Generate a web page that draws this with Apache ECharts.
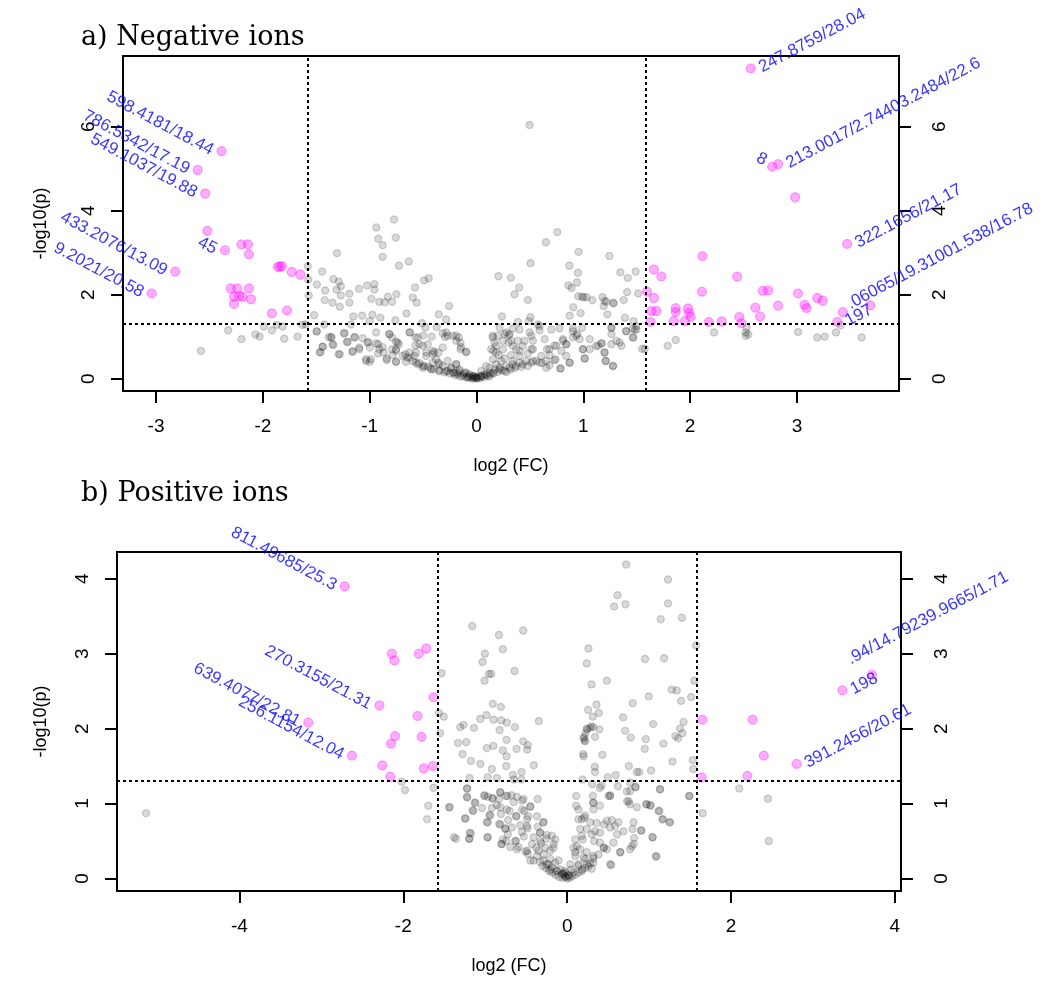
<!DOCTYPE html>
<html>
<head>
<meta charset="utf-8">
<script src="https://cdn.jsdelivr.net/npm/echarts@6/dist/echarts.min.js"></script>
<style>
html, body { margin: 0; padding: 0; background: #fff; }
#chart { width: 1047px; height: 981px; }
</style>
</head>
<body>
<div id="chart"></div>
<script>
// Cut-offs: fold change 3 (log2 = 1.585) and p = 0.05 (-log10 = 1.301)
const fcThreshold = 1.585;
const pThreshold = 1.301;

// Tick positions
const negXTicks = [-3, -2, -1, 0, 1, 2, 3];
const negYTicks = [0, 2, 4, 6];
const posXTicks = [-4, -2, 0, 2, 4];
const posYTicks = [0, 1, 2, 3, 4];

// ---------- a) Negative ions ----------
// non-significant features [log2FC, -log10 p]
const negGray = [
  [0.497,6.04],[-0.772,3.79],[-0.938,3.6],[-0.92,3.33],[-0.756,3.36],[-0.878,3.18],[-0.878,2.9],[-1.306,2.99],[-0.634,2.79],[-0.725,2.69],
  [0.756,3.49],[0.65,3.25],[0.506,2.75],[0.956,3.02],[1.244,2.92],[0.869,2.69],[0.95,2.52],[1.347,2.53],[1.416,2.4],[1.49,2.55],
  [0.206,2.44],[0.322,2.4],[0.4,2.17],[0.356,2.01],[0.481,1.87],[0.94,2.29],[0.86,2.22],[0.89,2.16],[0.953,1.96],[1.003,1.94],
  [1.084,1.87],[1.18,1.94],[1.19,1.73],[1.216,1.83],[1.28,1.81],[1.378,1.87],[1.513,2.03],[0.906,1.7],[0.872,1.5],[0.975,1.56],
  [1.225,1.53],[1.39,1.45],[1.47,1.37],[0.238,1.48],[0.506,1.46],
  [-1.444,2.55],[-1.34,2.37],[-1.288,2.31],[-1.27,2.2],[-1.31,2.12],[-1.416,2.1],[-1.494,2.24],[-1.575,2.36],[-1.27,1.98],[-1.347,1.81],
  [-1.28,1.71],[-1.42,1.87],[-1.19,1.81],[-1.19,2.02],[-1.1,2.14],[-1.025,2.22],[-0.956,2.25],[-0.956,2.12],[-0.984,1.9],[-0.91,1.83],
  [-0.86,1.82],[-0.83,1.95],[-0.75,2.01],[-0.79,1.83],[-0.575,2.17],[-0.49,2.34],[-0.447,2.39],[-0.597,1.93],[-0.56,1.81],[-0.256,1.73],
  [-1.52,1.51],[-1.153,1.48],[-1.07,1.5],[-0.975,1.52],[-0.9,1.45],[-1.0,1.37],[-0.76,1.39],[-0.656,1.55],[-0.51,1.32],[-0.353,1.53],
  [-0.284,1.41],[-1.6,1.29],[-1.175,1.29],[-1.425,1.29],[-1.58,2.68],[-1.57,1.98],
  [-1.494,1.12],[-1.363,0.99],[-1.238,1.09],[-1.138,0.99],[-1.206,0.88],[-1.347,0.82],[-1.44,0.76],[-1.463,0.63],[-1.28,0.58],[-1.16,0.64],
  [-1.097,0.7],[-1.019,0.86],[-0.94,0.84],[-0.91,0.7],[-0.988,0.46],[-1.034,0.42],[-0.84,0.44],[-0.753,0.4],[-0.816,1.06],[-0.738,0.86],
  [-0.753,0.66],[-0.628,1.1],[-0.55,0.98],[-0.534,0.82],[-0.628,0.62],[-0.65,0.5],[-0.47,0.62],[-0.41,0.58],[-0.378,0.46],[-0.566,0.38],
  [-0.503,0.26],[-0.425,0.22],[-0.347,0.34],[-0.284,1.1],[-0.22,1.02],[-0.19,0.9],[-0.15,0.7],[-0.097,0.64],[-0.316,0.74],[-0.284,0.18],
  [-0.22,0.14],[-0.175,0.1],[-0.128,0.06],[-0.08,0.02],[-0.034,0],[-0.238,0.26],[-0.19,0.34],[-0.16,0.22],[-0.097,0.14],[-0.066,0.06],
  [0,0.02],[0.028,0.05],[0.075,0.1],[0.12,0.14],[0.17,0.22],[0.216,0.26],[0.263,0.18],[0.31,0.26],[0.37,0.3],[0.434,0.34],
  [0.528,0.42],[0.59,0.38],[0.653,0.26],[0.73,0.44],[0.788,0.24],[0.872,0.38],[0.153,0.46],[0.184,0.62],[0.138,0.7],[0.169,0.86],
  [0.2,1.02],[0.153,1.02],[0.278,1.1],[0.31,1.06],[0.247,0.9],[0.34,0.78],[0.403,0.66],[0.387,0.9],[0.403,1.17],[0.497,1.1],
  [0.528,0.9],[0.513,0.7],[0.59,1.25],[0.638,0.94],[0.684,0.7],[0.747,0.78],[0.81,0.9],[0.84,0.82],[0.903,1.13],[0.934,1.02],
  [0.997,0.7],[1.013,0.48],[1.06,0.7],[1.12,0.78],[1.17,0.84],[1.2,0.62],[1.21,0.42],[1.278,0.3],[1.263,1.21],[1.263,1.06],
  [1.34,0.86],[1.4,1.13],[1.466,0.98],[1.497,1.17],[0.34,0.42],[0.09,0.3],[0.044,0.18],[1.55,0.71],[1.46,1.19],
  [-1.497,1.13],[-1.356,0.98],[-1.384,0.99],[-1.34,0.8],[-1.44,0.76],[-1.466,0.62],[-1.29,0.58],[-1.238,1.07],[-1.213,0.87],[-1.144,0.98],
  [-1.16,0.65],[-1.097,0.74],[-1.066,0.96],[-1.013,0.87],[-0.997,0.74],[-1.034,0.46],[-1.0,0.4],[-0.94,1.1],[-0.92,0.82],[-0.922,0.6],
  [-0.878,0.75],[-0.869,0.62],[-0.84,0.48],[-0.816,1.06],[-0.79,0.98],[-0.753,0.88],[-0.728,0.82],[-0.753,0.7],[-0.79,0.7],[-0.784,0.56],
  [-0.753,0.4],[-0.69,0.54],[-0.666,0.58],[-0.628,0.5],[-0.58,0.54],[-0.566,0.62],[-0.622,1.1],[-0.572,0.98],[-0.497,1.03],[-0.419,1.0],
  [-0.478,1.22],[-0.372,1.23],[-0.316,1.08],[-0.294,0.99],[-0.27,1.02],[-0.19,1.02],[-0.166,0.98],[-0.15,0.86],[-0.144,0.75],[-0.097,0.63],
  [-0.456,0.82],[-0.572,0.79],[-0.503,0.78],[-0.41,0.66],[-0.394,0.63],[-0.356,0.62],[-0.472,0.54],[-0.41,0.38],[-0.356,0.38],[-0.316,0.3],
  [-0.27,0.42],[-0.238,0.24],[-0.19,0.34],[-0.16,0.18],[-0.11,0.14],[-0.066,0.1],[-0.019,0.06],[-0.206,0.14],[-0.27,0.18],[-0.347,0.18],
  [-0.425,0.24],[-0.488,0.3],[-0.534,0.37],[-0.597,0.42],[-0.66,0.4],
  [0.216,1.21],[0.34,1.19],[0.388,1.35],[0.49,1.37],[0.575,1.29],[0.59,1.15],[0.7,1.17],[0.778,1.2],[0.903,1.2],[0.988,1.21],
  [1.263,1.21],[1.403,1.13],[1.48,1.17],[1.497,1.25],[0.153,0.98],[0.184,0.78],[0.159,0.66],[0.263,1.06],[0.303,1.03],[0.325,0.9],
  [0.209,0.56],[0.23,0.42],[0.3,0.86],[0.247,0.7],[0.325,0.56],[0.372,0.7],[0.403,0.54],[0.434,0.78],[0.45,0.9],[0.513,1.02],
  [0.528,0.7],[0.481,0.6],[0.56,0.42],[0.613,0.37],[0.606,0.54],[0.66,0.7],[0.684,0.56],[0.731,0.79],[0.81,0.94],[0.84,0.82],
  [0.794,0.66],[0.84,0.54],[0.872,0.38],[0.784,0.24],[0.74,0.46],[0.903,0.98],[0.944,1.06],[0.966,0.94],[0.997,0.7],[1.013,0.48],
  [1.06,0.94],[1.138,0.78],[1.17,0.84],[1.197,0.62],[1.21,0.42],[1.278,0.3],[1.263,0.82],[1.31,0.9],[1.356,0.78],[1.466,0.98],
  [1.575,0.71],[0.263,0.48],[0.34,0.34],[0.403,0.38],[0.278,0.3],[0.216,0.22],[0.153,0.14],[0.09,0.1],[0.044,0.06],[0,0.02],
  [-0.034,0.05],[0.122,0.26],[0.184,0.34],[0.465,0.42],[0.513,0.38],[0.653,0.42],[0.684,0.32],
  [0.988,1.95],[1.03,1.94],[1.2,1.85],[1.284,1.79],[1.41,2.06],
  [-0.25,0.12],[-0.2,0.08],[-0.15,0.05],[-0.12,0.1],[-0.08,0.04],[-0.05,0.02],[-0.02,0.01],[0.01,0],[0.04,0.02],[0.07,0.04],
  [0.1,0.07],[0.13,0.1],[0.16,0.12],[0.2,0.16],[0.24,0.2],[0.28,0.16],[-0.3,0.15],[-0.35,0.2],[-0.4,0.22],[-0.45,0.28],
  [-0.5,0.3],[-0.55,0.34],[0.32,0.22],[0.36,0.25],[0.42,0.28],[0.48,0.3],[-0.1,0.03],[0,0.03],[-0.03,0.06],[0.05,0.06],
  [-0.18,0.14],[0.12,0.05],
  [-2.324,1.15],[-2.2,0.94],[-2.07,1.05],[-2.03,1.0],[-1.99,1.24],[-1.915,1.15],[-1.87,1.28],[-1.815,1.24],[-1.8,0.95],[-1.675,1.0],
  [-1.63,1.28],[-2.58,0.66],
  [2.224,1.1],[1.79,0.78],[1.865,0.92],[2.52,1.1],[2.52,1.02],[2.545,1.05],[2.53,1.21],[3.01,1.11],[3.19,0.98],[3.26,1.0],
  [3.365,1.1],[3.41,1.27],[3.605,0.98]
];
// significant features without a printed name
const negSig = [
  [-2.52,3.52],[-2.2,3.2],[-2.14,3.2],[-2.13,2.96],[-1.84,2.67],[-1.82,2.68],[-1.86,2.66],[-1.73,2.54],[-1.65,2.48],
  [-2.3,2.15],[-2.24,2.15],[-2.13,2.15],[-2.27,1.95],[-2.22,1.97],[-2.19,1.95],[-2.11,1.89],[-2.27,1.78],[-1.915,1.555],[-1.774,1.62],
  [2.983,4.32],[2.115,2.92],[1.66,2.6],[1.73,2.435],[2.44,2.43],[1.596,2.07],[1.66,1.92],[2.11,2.07],[2.68,2.09],[2.73,2.1],
  [3.01,2.03],[3.19,1.92],[3.24,1.86],[1.637,1.61],[1.684,1.61],[1.865,1.68],[1.865,1.585],[1.98,1.67],[1.99,1.57],[2.006,1.47],
  [2.824,1.74],[2.61,1.69],[2.655,1.48],[3.07,1.76],[3.09,1.68],[3.686,1.745],[1.63,1.35],[1.846,1.37],[1.95,1.37],[2.174,1.35],
  [2.296,1.36],[2.46,1.47],[2.48,1.32]
];
// significant features with a printed mass/retention-time tag
const negNamed = [
  [-2.387,5.42],[-2.61,4.97],[-2.54,4.41],[-2.355,3.06],[-2.82,2.55],[-3.04,2.03],
  [2.568,7.39],[2.768,5.05],[2.824,5.11],[3.47,3.21],[3.43,1.585],[3.377,1.35]
];
const negNames = [
  '598.4181/18.44','786.5342/17.19','549.1037/19.88','45','433.2076/13.09','9.2021/20.58',
  '247.8759/28.04','8','213.0017/2.74403.2484/22.6','322.1656/21.17','.06065/19.31001.538/16.78','197'
];

// ---------- b) Positive ions ----------
const posGray = [
  [0.72,4.19],[1.23,3.99],[0.614,3.78],[0.573,3.63],[0.711,3.66],[1.23,3.67],[1.142,3.46],[1.4,3.48],[1.573,3.11],[0.26,3.07],
  [0.24,2.87],[0.95,2.93],[1.183,2.94],[0.297,2.59],[0.484,2.64],[1.553,2.64],[0.996,2.43],[0.8,2.34],[1.276,2.52],[1.337,2.51],
  [1.39,2.37],[1.512,2.42],[0.358,2.32],[0.256,2.25],[0.386,2.21],[0.313,2.16],[0.293,2.03],[0.244,1.99],[0.32,2.02],[0.224,1.94],
  [0.2,1.87],[0.211,1.84],[0.394,1.99],[0.195,1.66],[0.2,1.63],[0.43,1.65],[0.683,2.15],[0.707,1.97],[0.776,1.88],[0.96,1.86],
  [0.947,1.73],[1.049,2.06],[1.175,1.8],[1.32,1.9],[1.354,1.87],[1.407,1.94],[1.378,2.0],[1.42,2.09],[1.285,1.56],[1.533,1.58],
  [1.54,1.46],[0.752,1.5],[0.85,1.42],[1.024,1.44],[0.878,1.42],[0.337,1.49],[0.34,1.42],[0.593,1.38],[0.496,1.35],[0.187,1.32],
  [0.24,2.0],[0.28,2.01],[0.34,1.89],[0.207,1.89],[0.22,1.83],
  [-1.159,3.37],[-0.833,3.25],[-0.537,3.31],[-0.785,3.06],[-1.004,3.0],[-1.033,2.89],[-0.642,2.77],[-0.955,2.73],[-0.927,2.73],[-1.008,2.64],
  [-1.533,2.74],[-0.907,2.33],[-0.809,2.29],[-1.061,2.13],[-0.984,2.18],[-0.898,2.12],[-0.805,2.11],[-0.736,2.08],[-0.638,2.02],[-0.825,1.98],
  [-0.346,2.1],[-1.565,2.21],[-1.508,2.16],[-1.305,2.02],[-1.264,2.05],[-1.138,2.01],[-1.333,1.81],[-1.232,1.82],[-1.276,1.66],[-0.98,1.74],
  [-0.9,1.77],[-0.74,1.85],[-0.618,1.73],[-0.537,1.83],[-0.48,1.78],[-0.488,1.72],[-0.785,1.71],[-0.74,1.63],[-1.175,1.57],[-1.06,1.53],
  [-0.92,1.46],[-0.744,1.5],[-0.663,1.38],[-0.557,1.42],[-0.407,1.51],[-0.56,1.32],[-1.19,1.34],[-0.97,1.35],[-0.858,1.34],[-0.65,1.32],
  [-1.55,1.94],
  [0.305,1.26],[0.4,1.21],[0.42,1.24],[0.313,1.1],[0.524,1.1],[0.317,1.01],[0.4,0.97],[0.618,1.23],[0.837,1.22],[0.768,1.17],
  [0.732,1.03],[0.764,0.99],[0.972,0.99],[1.02,0.97],[1.134,1.19],[1.126,0.9],[1.248,0.75],[1.163,0.79],[1.492,1.1],[1.085,0.29],
  [1.04,0.55],[0.906,0.64],[0.797,0.66],[0.813,0.46],[0.768,0.39],[0.65,0.35],[0.565,0.48],[0.61,0.59],[0.524,0.68],[0.45,0.72],
  [0.4,0.61],[0.45,0.41],[0.382,0.32],[0.524,0.19],[0.28,0.2],[0.32,0.27],[0.22,0.26],[0.138,0.19],[0.18,0.12],[0.077,0.08],
  [0.016,0.04],[-0.024,0.03],[-0.065,0.06],[-0.126,0.1],[-0.187,0.15],[-0.248,0.19],[-0.33,0.22],[-0.41,0.24],[-0.207,0.26],[-0.106,0.24],
  [-0.289,0.32],[-0.35,0.37],[-0.167,0.41],[-0.146,0.52],[-0.248,0.58],[0.098,0.35],[0.118,0.43],[0.19,0.52],[0.207,0.81],[0.11,0.97],
  [0.18,0.79],[0.24,0.66],[0.3,0.59],[0.159,0.66],
  [-1.22,1.2],[-1.22,1.08],[-1.44,0.95],[-1.13,1.01],[-1.155,0.91],[-1.244,0.8],[-1.382,0.55],[-1.358,0.53],[-1.19,0.61],[-1.195,0.53],
  [-0.97,0.55],[-1.012,1.1],[-0.97,1.09],[-0.915,1.07],[-0.833,1.06],[-0.817,1.15],[-0.728,1.1],[-0.614,1.09],[-0.532,1.06],[-0.654,1.02],
  [-0.45,0.96],[-0.55,0.92],[-0.476,0.83],[-0.622,0.83],[-0.703,0.9],[-0.817,0.95],[-0.94,0.84],[-0.97,0.75],[-0.817,0.72],[-0.752,0.67],
  [-0.724,0.59],[-0.797,0.46],[-0.744,0.5],[-0.626,0.5],[-0.614,0.39],[-0.508,0.36],[-0.48,0.33],[-0.553,0.62],[-0.492,0.7],[-0.37,0.83],
  [-0.289,0.75],[-0.33,0.61],[-0.256,0.53],[-0.41,0.55],[-0.317,0.47],[-0.378,0.41],
  [-1.224,1.2],[-1.224,1.09],[-1.008,1.11],[-0.906,1.07],[-0.817,1.15],[-0.75,1.1],[-0.68,1.11],[-0.55,1.04],[-1.12,1.01],[-1.146,0.9],
  [-1.244,0.8],[-1.04,0.94],[-0.919,0.94],[-0.858,0.98],[-0.736,0.92],[-0.809,0.86],[-0.947,0.85],[-0.98,0.75],[-0.829,0.73],[-0.72,0.78],
  [-0.622,0.83],[-0.524,0.9],[-0.45,0.96],[-0.36,1.06],[-0.49,0.79],[-0.573,0.71],[-0.675,0.68],[-0.756,0.66],[-0.484,0.67],[-0.36,0.69],
  [-0.289,0.75],[-0.33,0.61],[-0.53,0.56],[-0.634,0.5],[-0.695,0.42],[-0.785,0.52],[-0.805,0.46],[-0.593,0.42],[-0.49,0.37],[-0.43,0.46],
  [-0.33,0.5],[-0.187,0.57],[-0.268,0.41],[-0.207,0.37],[-0.167,0.46],[-0.37,0.3],[-0.45,0.24],[-0.289,0.24],[-0.228,0.19],[-0.146,0.21],
  [-0.085,0.12],[-0.045,0.06],[0,0],[-0.126,0.1],[-0.207,0.12],[-1.175,0.6],[-1.195,0.53],[-0.972,0.55],[-1.435,0.95],
  [0.11,1.1],[0.32,1.01],[0.32,0.92],[0.138,0.92],[0.22,0.84],[0.138,0.79],[0.28,0.75],[0.36,0.74],[0.484,0.77],[0.545,0.78],
  [0.626,0.75],[0.585,0.7],[0.687,0.63],[0.81,0.75],[0.902,0.64],[0.817,0.54],[0.789,0.43],[0.646,0.35],[0.537,0.18],[0.484,0.39],
  [0.443,0.41],[0.4,0.48],[0.33,0.5],[0.34,0.63],[0.179,0.57],[0.098,0.52],[0.077,0.41],[0.159,0.39],[0.24,0.35],[0.32,0.3],
  [0.2,0.28],[0.098,0.3],[0.037,0.19],[0.138,0.17],[0.24,0.19],[0.32,0.21],[-0.024,0.08],[0.016,0.04],[-0.045,0.06],[0.752,1.03],
  [0.85,0.95],[0.963,0.99],[1.012,0.98],[1.114,0.9],[1.167,0.79],[1.256,0.75],[1.045,0.55],[1.085,0.3],[0.504,1.1],[0.524,1.11],
  [0.728,1.16],[0.768,1.28],[0.83,1.22],[1.134,1.19],[1.488,1.1],
  [-0.1,0.02],[-0.06,0.01],[-0.02,0.02],[0.03,0.01],[0.06,0.03],[0.1,0.05],[0.14,0.08],[-0.14,0.05],[-0.18,0.08],[-0.22,0.1],
  [0.18,0.1],[0.22,0.14],[0.05,0.12],[-0.03,0.1],[-0.26,0.14],[0.26,0.16],[-0.3,0.17],[0.3,0.13],
  [-1.98,1.18],[-1.63,1.21],[-1.695,0.97],[-1.71,0.79],[-2.02,1.29],[-5.14,0.87],[2.1,1.2],[2.45,1.065],[2.46,0.5],[1.654,0.87]
];
const posSig = [
  [-2.14,3.0],[-2.11,2.91],[-1.81,3.0],[-1.72,3.07],[-1.63,2.42],[-1.826,2.17],[-2.1,1.9],[-2.15,1.8],[-1.777,1.89],
  [-2.256,1.51],[-1.75,1.47],[-1.64,1.5],[-2.16,1.36],
  [1.65,2.12],[1.64,1.35],[2.264,2.12],[2.4,1.64],[2.2,1.37]
];
const posNamed = [
  [-2.716,3.9],[-2.29,2.31],[-3.16,2.08],[-2.626,1.64],
  [2.8,1.53],[3.36,2.51],[3.72,2.72]
];
const posNames = [
  '811.49685/25.3','270.3155/21.31','639.4077/22.81','256.1154/12.04',
  '391.2456/20.61','198','.94/14.79239.9665/1.71'
];

// ---------- styling ----------
const SANS = 'Liberation Sans, Arial, sans-serif';
const SERIF = 'DejaVu Serif, serif';
const LABEL_ANGLE = 28;
const labelTweaks = {
  '8': { position: 'left', rotate: -LABEL_ANGLE, offset: [0, -6] },
  '.94/14.79239.9665/1.71': { offset: [-22, -28] },
  '.06065/19.31001.538/16.78': { offset: [0, -8] }
};

// R-style axis range: data range widened by 4% on each side
function paddedRange(points, idx) {
  let lo = Infinity, hi = -Infinity;
  points.forEach(p => { lo = Math.min(lo, p[idx]); hi = Math.max(hi, p[idx]); });
  const pad = (hi - lo) * 0.04;
  return [lo - pad, hi + pad];
}

function sigItems(plain, named, names) {
  const items = plain.map(p => ({ value: p }));
  named.forEach((p, i) => {
    const text = names[i];
    const onLeft = p[0] < 0;
    items.push({
      value: p,
      label: Object.assign({
        show: true,
        formatter: text,
        position: onLeft ? 'left' : 'right',
        rotate: onLeft ? -LABEL_ANGLE : LABEL_ANGLE,
        distance: 4,
        color: '#0000ff',
        fontFamily: SANS,
        fontSize: 17
      }, labelTweaks[text] || {})
    });
  });
  return items;
}

const tickStyle = ticks => ({
  show: true, length: 12, customValues: ticks, lineStyle: { color: '#000', width: 2 }
});

function xAxisFor(gridIndex, range, ticks) {
  return {
    type: 'value', gridIndex, min: range[0], max: range[1],
    name: 'log2 (FC)', nameLocation: 'middle', nameGap: 66,
    nameTextStyle: { fontFamily: SANS, fontSize: 18, color: '#000' },
    axisLine: { show: false, onZero: false },
    axisTick: tickStyle(ticks),
    axisLabel: { customValues: ticks, margin: 26, fontFamily: SANS, fontSize: 19, color: '#000' },
    splitLine: { show: false }
  };
}

function yAxisFor(gridIndex, range, ticks, side, gap) {
  const ax = {
    type: 'value', gridIndex, position: side, min: range[0], max: range[1],
    axisLine: { show: false, onZero: false },
    axisTick: tickStyle(ticks),
    axisLabel: { customValues: ticks, rotate: 90, margin: side === 'left' ? 25 : 31,
                 fontFamily: SANS, fontSize: 19, color: '#000' },
    splitLine: { show: false }
  };
  if (side === 'left') {
    Object.assign(ax, {
      name: '-log10(p)', nameLocation: 'middle', nameGap: gap, nameRotate: 90,
      nameTextStyle: { fontFamily: SANS, fontSize: 18, color: '#000' }
    });
  }
  return ax;
}

function cutoffLines() {
  return {
    silent: true, symbol: ['none', 'none'], label: { show: false }, animation: false,
    lineStyle: { color: '#000', width: 2, type: [3, 3] },
    data: [{ xAxis: -fcThreshold }, { xAxis: fcThreshold }, { yAxis: pThreshold }]
  };
}

const negAll = negGray.concat(negSig, negNamed);
const posAll = posGray.concat(posSig, posNamed);
const negX = paddedRange(negAll, 0), negY = paddedRange(negAll, 1);
const posX = paddedRange(posAll, 0), posY = paddedRange(posAll, 1);

const grayStyle = { color: 'rgba(0,0,0,0.19)', borderColor: 'rgba(0,0,0,0.2)', borderWidth: 1.2 };
const pinkStyle = { color: 'rgba(255,0,255,0.4)', borderColor: 'rgba(255,0,255,0.4)', borderWidth: 1.3 };

const chart = echarts.init(document.getElementById('chart'), null, { renderer: 'canvas' });
chart.setOption({
  animation: false,
  backgroundColor: '#fff',
  title: [
    { text: 'a) Negative ions', left: 81, top: 24, padding: 0,
      textStyle: { fontFamily: SERIF, fontSize: 27, fontWeight: 'normal', color: '#000' } },
    { text: 'b) Positive ions', left: 81, top: 480, padding: 0,
      textStyle: { fontFamily: SERIF, fontSize: 27, fontWeight: 'normal', color: '#000' } }
  ],
  grid: [
    { left: 123, top: 56, width: 776, height: 335, show: true, borderColor: '#000', borderWidth: 2,
      backgroundColor: 'transparent', containLabel: false, outerBoundsMode: 'none' },
    { left: 117, top: 552, width: 784, height: 339, show: true, borderColor: '#000', borderWidth: 2,
      backgroundColor: 'transparent', containLabel: false, outerBoundsMode: 'none' }
  ],
  xAxis: [ xAxisFor(0, negX, negXTicks), xAxisFor(1, posX, posXTicks) ],
  yAxis: [
    yAxisFor(0, negY, negYTicks, 'left', 73),
    yAxisFor(0, negY, negYTicks, 'right'),
    yAxisFor(1, posY, posYTicks, 'left', 67),
    yAxisFor(1, posY, posYTicks, 'right')
  ],
  series: [
    { type: 'scatter', xAxisIndex: 0, yAxisIndex: 0, silent: true, symbolSize: 7.2,
      itemStyle: grayStyle, data: negGray, markLine: cutoffLines() },
    { type: 'scatter', xAxisIndex: 0, yAxisIndex: 0, silent: true, symbolSize: 9,
      itemStyle: pinkStyle, data: sigItems(negSig, negNamed, negNames) },
    { type: 'scatter', xAxisIndex: 1, yAxisIndex: 2, silent: true, symbolSize: 7.2,
      itemStyle: grayStyle, data: posGray, markLine: cutoffLines() },
    { type: 'scatter', xAxisIndex: 1, yAxisIndex: 2, silent: true, symbolSize: 9,
      itemStyle: pinkStyle, data: sigItems(posSig, posNamed, posNames) }
  ]
});
</script>
</body>
</html>
